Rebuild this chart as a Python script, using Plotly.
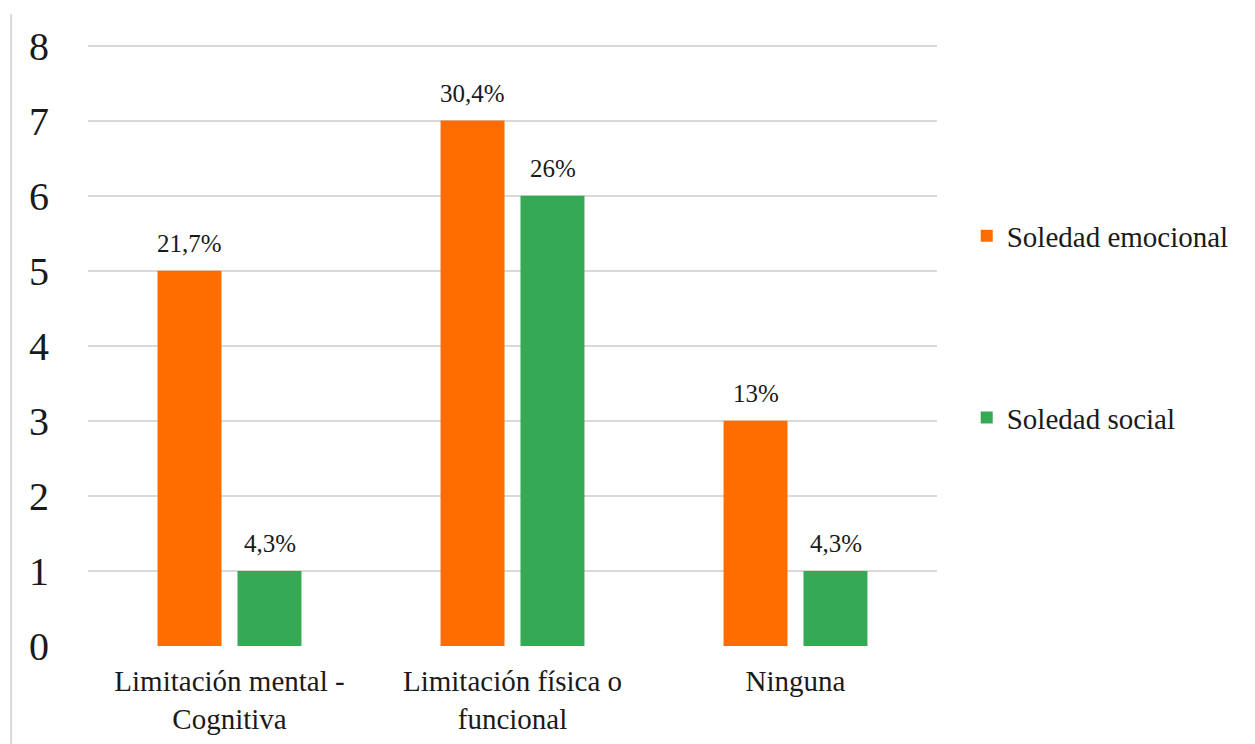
import plotly.graph_objects as go

# Categories and counts per loneliness type
categories = ["Limitación mental -<br>Cognitiva", "Limitación física o<br>funcional", "Ninguna"]
emocional = [5, 7, 3]
social = [1, 6, 1]
emocional_pct = ["21,7%", "30,4%", "13%"]
social_pct = ["4,3%", "26%", "4,3%"]
y_ticks = [0, 1, 2, 3, 4, 5, 6, 7, 8]

ORANGE = "#FF6D00"
GREEN = "#36A955"
SERIF = "Liberation Serif"
TEXT = "#1a1a1a"

fig = go.Figure()
fig.add_trace(go.Bar(
    x=categories, y=emocional, name="Soledad emocional",
    marker=dict(color=ORANGE, line=dict(width=0)), legendgroup="a",
))
fig.add_trace(go.Bar(
    x=categories, y=social, name="Soledad social",
    marker=dict(color=GREEN, line=dict(width=0)), legendgroup="b",
))

# Percentage labels above each bar
for vals, labels, shift in ((emocional, emocional_pct, -40), (social, social_pct, 40)):
    for cat, v, lab in zip(categories, vals, labels):
        fig.add_annotation(
            x=cat, y=v, text=lab, showarrow=False, xshift=shift,
            yanchor="bottom", yshift=12,
            font=dict(family=SERIF, size=25, color=TEXT),
        )

# Thin border line on the left edge
fig.add_shape(type="line", xref="paper", yref="paper",
              x0=-0.0905, x1=-0.0905, y0=1.05, y1=-0.2,
              line=dict(color="#D9D9D9", width=2))

fig.update_layout(
    width=1255, height=744,
    margin=dict(l=88, r=318, t=44, b=98, autoexpand=False),
    paper_bgcolor="white", plot_bgcolor="white",
    barmode="group", bargap=0.435, bargroupgap=0.2,
    font=dict(family=SERIF, color=TEXT),
    legend=dict(
        x=1.035, y=0.53, xanchor="left", yanchor="middle",
        font=dict(family=SERIF, size=29, color=TEXT),
        tracegroupgap=141, itemwidth=30,
    ),
    xaxis=dict(
        showgrid=False, showline=False, zeroline=False, ticks="",
        tickfont=dict(family=SERIF, size=29, color=TEXT),
        ticklabelstandoff=15,
    ),
    yaxis=dict(
        range=[0, 8.02], tickvals=y_ticks, showgrid=True, gridcolor="#D9D9D9", gridwidth=2,
        zeroline=False, showline=False, ticks="",
        tickfont=dict(family=SERIF, size=40, color=TEXT),
        ticklabelstandoff=38,
    ),
)

fig.write_html("out.html")
